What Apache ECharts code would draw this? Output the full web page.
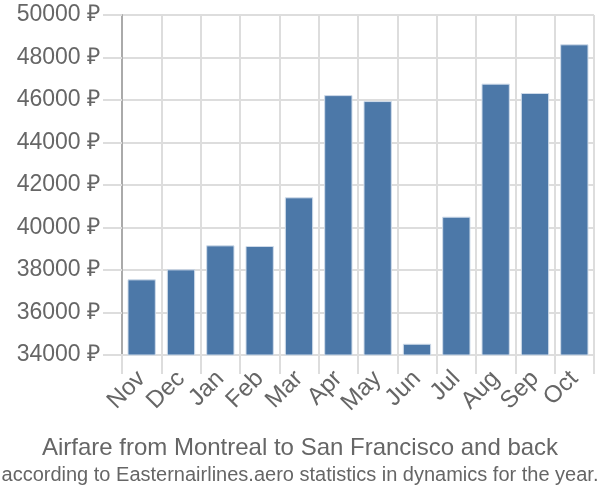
<!DOCTYPE html>
<html><head><meta charset="utf-8">
<script src="https://cdn.jsdelivr.net/npm/echarts@6/dist/echarts.min.js"></script>
<style>html,body{margin:0;padding:0;background:#fff}#c{width:600px;height:500px}</style>
</head><body><div id="c"></div>
<script>
const categories = ['Nov','Dec','Jan','Feb','Mar','Apr','May','Jun','Jul','Aug','Sep','Oct'];
const prices = [37560, 38030, 39160, 39130, 41420, 46230, 45950, 34530, 40510, 46770, 46330, 48620];
const yMin = 34000, yMax = 50000, yStep = 2000;
const titleText = 'Airfare from Montreal to San Francisco and back';
const subText = 'according to Easternairlines.aero statistics in dynamics for the year.';

const chart = echarts.init(document.getElementById('c'), null, {renderer:'canvas'});
chart.setOption({
  animation:false,
  textStyle:{fontFamily:'Liberation Sans'},
  title:{
    text:titleText, subtext:subText, left:'center', top:431, itemGap:5,
    textStyle:{fontSize:24, fontWeight:'normal', color:'#666', fontFamily:'Liberation Sans'},
    subtextStyle:{fontSize:20, color:'#666', fontFamily:'Liberation Sans'}
  },
  grid:{left:122, right:6, top:15, bottom:145, containLabel:false},
  xAxis:{
    type:'category', data:categories, boundaryGap:true,
    axisLine:{show:true, lineStyle:{color:'#ddd', width:2}},
    axisTick:{show:true, length:19, lineStyle:{color:'#ddd', width:2}},
    splitLine:{show:true, lineStyle:{color:'#ddd', width:2}},
    axisLabel:{rotate:45, fontSize:24, color:'#666', margin:20, interval:0}
  },
  yAxis:{
    type:'value', min:yMin, max:yMax, interval:yStep,
    axisLine:{show:true, lineStyle:{color:'#aaa', width:2}},
    axisTick:{show:true, length:19, lineStyle:{color:'#ddd', width:2}},
    splitLine:{show:true, lineStyle:{color:'#ddd', width:2}},
    axisLabel:{formatter:function(v){return v + ' ₽';}, fontSize:23, color:'#666', margin:22}
  },
  series:[{
    type:'bar', data:prices, barCategoryGap:'28%',
    itemStyle:{color:'#4c78a8', borderColor:'#d0dcea', borderWidth:1}
  }]
});
</script></body></html>
